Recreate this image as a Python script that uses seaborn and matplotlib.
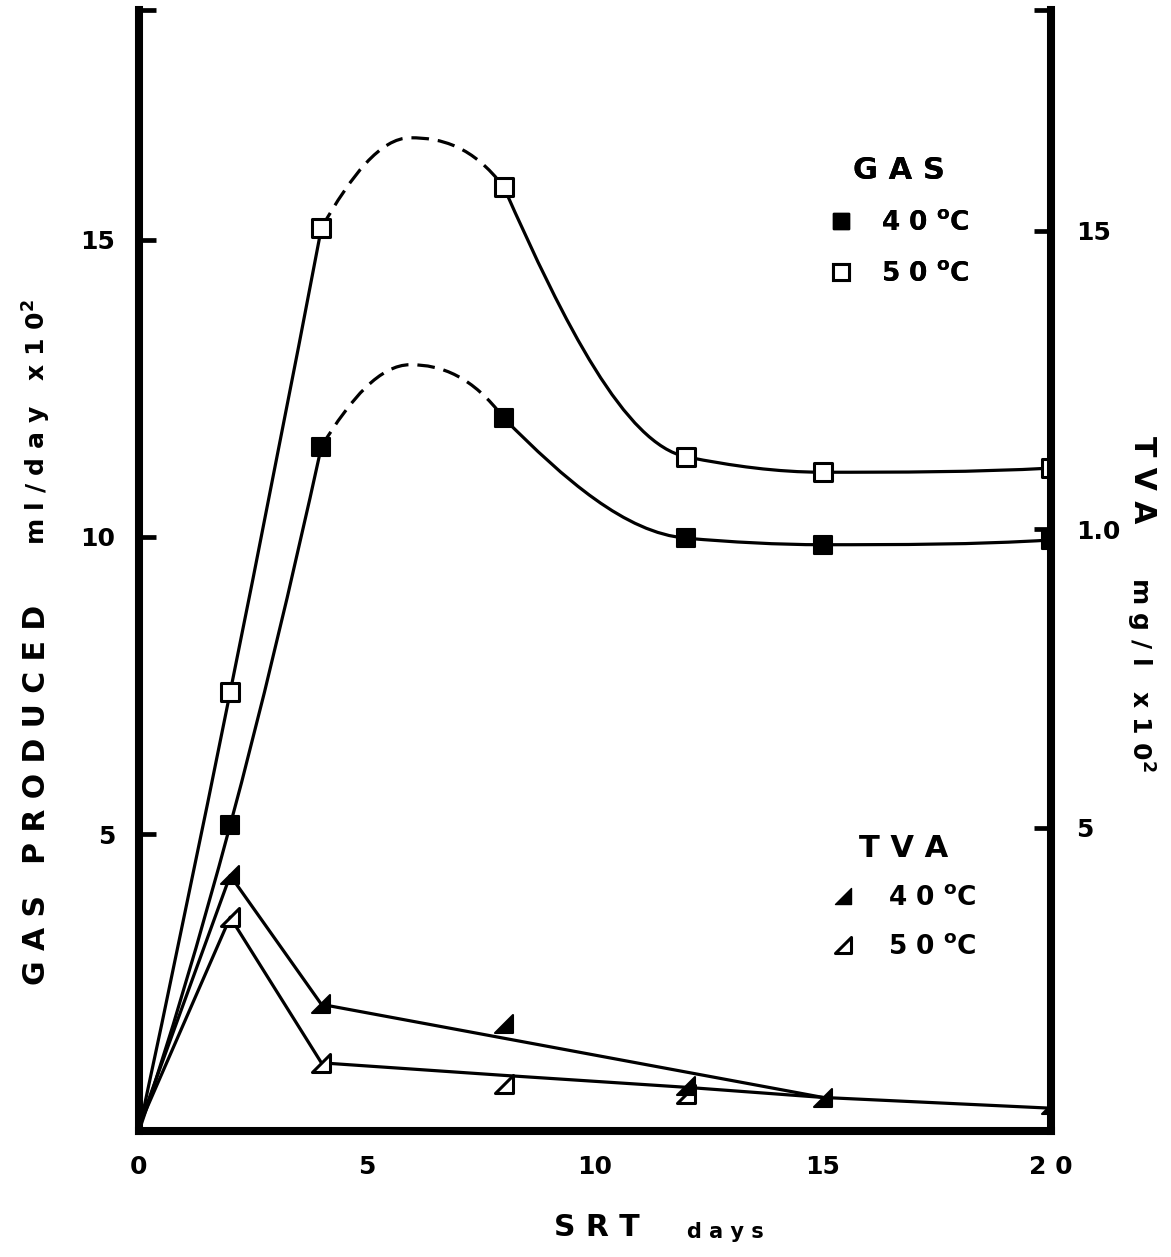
import numpy as np
import matplotlib
matplotlib.use("Agg")
import matplotlib.pyplot as plt
from matplotlib.path import Path
from matplotlib.patches import PathPatch
from matplotlib.lines import Line2D
import seaborn as sns

# ---- values ----
srt = [0, 2, 4, 8, 12, 15, 20]
gas_40 = [0, 5.15, 11.52, 12.0, 9.98, 9.87, 9.95]
gas_50 = [0, 7.39, 15.2, 15.89, 11.35, 11.09, 11.16]
# hand drawn dashed hump between 4 and 8 days
peak_srt = 5.95
peak_40 = 12.9
peak_50 = 16.72

# TVA points (right axis)
tva_srt_40 = [2, 4, 8, 12, 15, 20]
tva_40 = [4.2, 2.04, 1.71, 0.68, 0.47, 0.35]
tva_srt_50 = [2, 4, 8, 12]
tva_50 = [3.5, 1.06, 0.71, 0.53]
# lines drawn through the TVA points
tva_line_srt_40 = [0, 2, 4, 15, 20]
tva_line_40 = [0, 4.2, 2.04, 0.48, 0.3]
tva_line_srt_50 = [0, 2, 4, 8, 12, 15]
tva_line_50 = [0, 3.5, 1.06, 0.85, 0.65, 0.48]

x_ticks = [0, 5, 10, 15, 20]
x_labels = ["0", "5", "10", "15", "2 0"]
y_ticks = [5, 10, 15]
y_labels_left = ["5", "10", "15"]
y_labels_right = ["5", "1.0", "15"]


def smooth_path(xs, ys):
    # monotone cubic (pchip) through the points, as bezier segments
    x = np.asarray(xs, float)
    y = np.asarray(ys, float)
    h = np.diff(x)
    d = np.diff(y) / h
    n = len(x)
    m = np.zeros(n)
    for k in range(1, n - 1):
        if d[k - 1] * d[k] > 0:
            w1 = 2 * h[k] + h[k - 1]
            w2 = h[k] + 2 * h[k - 1]
            m[k] = (w1 + w2) / (w1 / d[k - 1] + w2 / d[k])

    def end(h0, h1, d0, d1):
        mm = ((2 * h0 + h1) * d0 - h0 * d1) / (h0 + h1)
        if np.sign(mm) != np.sign(d0):
            mm = 0.0
        elif np.sign(d0) != np.sign(d1) and abs(mm) > abs(3 * d0):
            mm = 3 * d0
        return mm

    m[0] = end(h[0], h[1], d[0], d[1])
    m[-1] = end(h[-1], h[-2], d[-1], d[-2])
    verts = [(x[0], y[0])]
    codes = [Path.MOVETO]
    for k in range(n - 1):
        verts += [(x[k] + h[k] / 3, y[k] + m[k] * h[k] / 3),
                  (x[k + 1] - h[k] / 3, y[k + 1] - m[k + 1] * h[k] / 3),
                  (x[k + 1], y[k + 1])]
        codes += [Path.CURVE4] * 3
    return Path(verts, codes)


sns.set_style("white")
plt.rcParams["font.family"] = ["DejaVu Sans"]
plt.rcParams["font.weight"] = "bold"
plt.rcParams["mathtext.default"] = "bf"
plt.rcParams["text.color"] = "black"
plt.rcParams["axes.labelcolor"] = "black"

fig = plt.figure(figsize=(11.71, 12.57), dpi=100)
ax = fig.add_axes([0.1187, 0.1002, 0.7788, 0.8918])
ax2 = ax.twinx()

lw = 2.3
dash = (0, (5.5, 2.8))

# gas curves: solid rise, dashed hump, solid fall
for g, pk in [(gas_40, peak_40), (gas_50, peak_50)]:
    pieces = [(srt[:3], g[:3], "solid"),
              ([srt[2], peak_srt, srt[3]], [g[2], pk, g[3]], dash),
              (srt[3:], g[3:], "solid")]
    for xs, ys, ls in pieces:
        ax.add_patch(PathPatch(smooth_path(xs, ys), fill=False, lw=lw,
                               edgecolor="black", linestyle=ls, zorder=3))

sns.scatterplot(x=srt[1:], y=gas_40[1:], ax=ax, marker="s", s=150,
                color="black", edgecolor="black", linewidth=1.5, zorder=5)
sns.scatterplot(x=srt[1:], y=gas_50[1:], ax=ax, marker="s", s=150,
                color="white", edgecolor="black", linewidth=2.2, zorder=5)

# TVA on the right axis
tri = Path([(-1, -1), (1, -1), (1, 1), (-1, -1)],
           [Path.MOVETO, Path.LINETO, Path.LINETO, Path.CLOSEPOLY])
sns.lineplot(x=tva_line_srt_40, y=tva_line_40, ax=ax2, color="black",
             lw=lw, estimator=None, sort=False, zorder=3)
sns.lineplot(x=tva_line_srt_50, y=tva_line_50, ax=ax2, color="black",
             lw=lw, estimator=None, sort=False, zorder=3)
sns.scatterplot(x=tva_srt_50, y=tva_50, ax=ax2, marker=tri, s=150,
                color="white", edgecolor="black", linewidth=2.2, zorder=5)
sns.scatterplot(x=tva_srt_40, y=tva_40, ax=ax2, marker=tri, s=150,
                color="black", edgecolor="black", linewidth=1.5, zorder=6)

# axes look
top_l = 18.87
top_r = 18.70
ax.set_xlim(0, 20)
ax.set_ylim(0, top_l)
ax2.set_ylim(-0.083, top_r)

ax.set_xticks(x_ticks, x_labels)
ax.set_yticks(y_ticks + [top_l], y_labels_left + [""])
ax2.set_yticks(y_ticks + [top_r], y_labels_right + [""])

for s in ["top", "right"]:
    ax.spines[s].set_visible(False)
for s in ["top", "left", "bottom"]:
    ax2.spines[s].set_visible(False)
for sp in [ax.spines["left"], ax.spines["bottom"], ax2.spines["right"]]:
    sp.set_linewidth(5.8)
    sp.set_color("black")

ax.tick_params(axis="both", direction="in", length=12, width=3.4,
               labelsize=18, pad=17, colors="black")
ax2.tick_params(axis="y", direction="in", length=12, width=3.4,
                labelsize=18, pad=18, colors="black")
ax.set_xlabel("")
ax.set_ylabel("")
ax2.set_ylabel("")
ax.grid(False)
ax2.grid(False)

# axis titles
fig.text(37 / 1171, 1 - 795 / 1257, "G A S   P R O D U C E D", rotation=90,
         ha="center", va="center", fontsize=21.5, fontweight="bold")
fig.text(37 / 1171, 1 - 422 / 1257, r"m l / d a y   x 1 0$^{2}$", rotation=90,
         ha="center", va="center", fontsize=18, fontweight="bold")
fig.text(1143 / 1171, 1 - 480 / 1257, "T V A", rotation=270,
         ha="center", va="center", fontsize=21.5, fontweight="bold")
fig.text(1140 / 1171, 1 - 675 / 1257, r"m g / l   x 1 0$^{2}$", rotation=270,
         ha="center", va="center", fontsize=18, fontweight="bold")
fig.text(597 / 1171, 1 - 1228 / 1257, "S R T", ha="center", va="center",
         fontsize=21.5, fontweight="bold")
fig.text(725 / 1171, 1 - 1232 / 1257, "d a y s", ha="center", va="center",
         fontsize=15, fontweight="bold")

# legends
gas_handles = [Line2D([], [], ls="", marker="s", ms=12, mfc="black", mec="black"),
               Line2D([], [], ls="", marker="s", ms=12, mfc="white", mec="black", mew=2.2)]
tva_handles = [Line2D([], [], ls="", marker=tri, ms=11, mfc="black", mec="black"),
               Line2D([], [], ls="", marker=tri, ms=11, mfc="white", mec="black", mew=2.2)]
labels = [r"4 0 $^{\mathbf{o}}$C", r"5 0 $^{\mathbf{o}}$C"]

leg1 = ax.legend(gas_handles, labels, title="G A S", loc="upper left",
                 bbox_to_anchor=(828 / 1171, 1 - 156 / 1257),
                 bbox_transform=fig.transFigure, frameon=False, fontsize=19,
                 handlelength=1.0, handletextpad=1.0, labelspacing=0.95,
                 borderpad=0, borderaxespad=0)
leg1.get_title().set_fontsize(22)
leg1.get_title().set_fontweight("bold")
ax.add_artist(leg1)

leg2 = ax2.legend(tva_handles, labels, title="T V A", loc="upper left",
                  bbox_to_anchor=(830 / 1171, 1 - 834 / 1257),
                  bbox_transform=fig.transFigure, frameon=False, fontsize=19,
                  handlelength=1.0, handletextpad=1.2, labelspacing=0.85,
                  borderpad=0, borderaxespad=0)
leg2.get_title().set_fontsize(22)
leg2.get_title().set_fontweight("bold")

fig.savefig("out.png", dpi=100, facecolor="white")
